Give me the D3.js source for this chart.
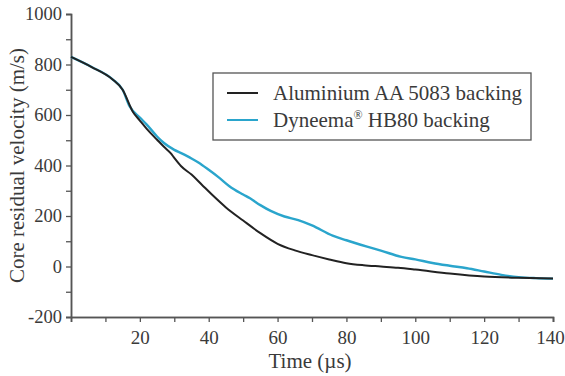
<!DOCTYPE html>
<html>
<head>
<meta charset="utf-8">
<script src="https://cdn.jsdelivr.net/npm/d3@7"></script>
<style>
  body { margin: 0; background: #fff; }
  text { font-family: "Liberation Serif", "Times New Roman", serif; fill: #3a3a3a; }
</style>
</head>
<body>
<div id="chart"></div>
<script>
// time (µs) and core residual velocity (m/s)
var alTime = [0, 6, 12, 15, 18, 20, 22, 25, 27, 29, 30, 32, 35, 38, 41, 45, 50, 55, 60, 65, 70, 75, 80, 85, 90, 95, 100, 110, 120, 130, 140];
var alVel  = [830, 790, 742, 700, 612, 578, 545, 502, 474, 448, 430, 397, 364, 324, 284, 234, 182, 132, 90, 64, 45, 28, 13, 5, 0, -5, -12, -28, -40, -45, -48];

var dyTime = [0, 6, 12, 15, 17, 20, 22, 25, 27, 30, 32, 35, 37, 40, 43, 46, 50, 52, 55, 58, 62, 66, 70, 76, 80, 86, 90, 96, 100, 105, 110, 115, 120, 125, 130, 135, 140];
var dyVel  = [830, 790, 742, 700, 635, 590, 562, 515, 489, 462, 449, 428, 412, 383, 352, 318, 285, 270, 243, 220, 198, 184, 163, 122, 104, 79, 63, 38, 28, 14, 3, -7, -20, -33, -42, -46, -48];

var seriesNames = ["Aluminium AA 5083 backing", "Dyneema\u00AE HB80 backing"];
var seriesColors = ["#222222", "#2aa5cc"];

var xTicks = [20, 40, 60, 80, 100, 120, 140];
var xMinor = [10, 30, 50, 70, 90, 110, 130];
var yTicks = [-200, 0, 200, 400, 600, 800, 1000];
var yMinor = [-100, 100, 300, 500, 700, 900];

var width = 565, height = 376;
var margin = {top: 14, right: 12, bottom: 59, left: 71};
var w = width - margin.left - margin.right,
    h = height - margin.top - margin.bottom;

var svg = d3.select("#chart").append("svg")
    .attr("width", width).attr("height", height);
var g = svg.append("g").attr("transform", "translate(" + margin.left + "," + margin.top + ")");

var x = d3.scaleLinear().domain([0, 140]).range([0, w]);
var y = d3.scaleLinear().domain([-200, 1000]).range([h, 0]);

var plain = function (d) { return String(d); };  // keeps "-200" and "1000" as printed

// axes
var xAx = g.append("g").attr("transform", "translate(0," + h + ")")
    .call(d3.axisBottom(x).tickValues(xTicks).tickSize(5).tickPadding(9).tickFormat(plain));
g.append("g").attr("transform", "translate(0," + h + ")")
    .call(d3.axisBottom(x).tickValues(xMinor).tickSize(5).tickFormat(""));
var yAx = g.append("g")
    .call(d3.axisLeft(y).tickValues(yTicks).tickSize(5).tickPadding(4).tickFormat(plain));
g.append("g")
    .call(d3.axisLeft(y).tickValues(yMinor).tickSize(5).tickFormat(""));

g.selectAll("g").attr("font-family", "Liberation Serif, serif");
xAx.attr("font-size", 19);
yAx.attr("font-size", 18.5);
// last label sits on the right edge, nudge it so it stays inside the page
xAx.selectAll(".tick text").filter(function (d) { return d === 140; }).attr("dx", -3);
g.selectAll(".domain").attr("stroke", "#555").attr("stroke-width", 1.5);
g.selectAll(".tick line").attr("stroke", "#555").attr("stroke-width", 1.3);
g.selectAll(".tick text").attr("fill", "#3a3a3a");

// axis titles
svg.append("text")
    .attr("x", margin.left + x(70) - 2).attr("y", 368)
    .attr("text-anchor", "middle").style("font-size", "21px")
    .text("Time (\u00B5s)");
svg.append("text")
    .attr("transform", "translate(24," + (margin.top + h / 2) + ") rotate(-90)")
    .attr("text-anchor", "middle").style("font-size", "21px")
    .text("Core residual velocity (m/s)");

// lines
var line = d3.line()
    .x(function (d) { return x(d[0]); })
    .y(function (d) { return y(d[1]); })
    .curve(d3.curveMonotoneX);

var dyData = d3.zip(dyTime, dyVel);
var alData = d3.zip(alTime, alVel);

g.append("path").datum(dyData)
    .attr("fill", "none").attr("stroke", seriesColors[1]).attr("stroke-width", 2.4)
    .attr("d", line);
g.append("path").datum(alData)
    .attr("fill", "none").attr("stroke", seriesColors[0]).attr("stroke-width", 2)
    .attr("d", line);

// legend
var legend = svg.append("g").attr("transform", "translate(213,73)");
legend.append("rect")
    .attr("width", 318).attr("height", 67)
    .attr("fill", "#fff").attr("stroke", "#555").attr("stroke-width", 1.3);

seriesNames.forEach(function (name, i) {
  var ly = 20 + i * 27;
  legend.append("line")
      .attr("x1", 14).attr("x2", 45).attr("y1", ly).attr("y2", ly)
      .attr("stroke", seriesColors[i]).attr("stroke-width", 2);
  var t = legend.append("text").attr("x", 60).attr("y", ly + 7).style("font-size", "21px");
  if (i === 1) {
    t.append("tspan").text("Dyneema");
    t.append("tspan").attr("dy", -8).style("font-size", "12px").text("\u00AE");
    t.append("tspan").attr("dy", 8).text(" HB80 backing");
  } else {
    t.text(name);
  }
});
</script>
</body>
</html>
